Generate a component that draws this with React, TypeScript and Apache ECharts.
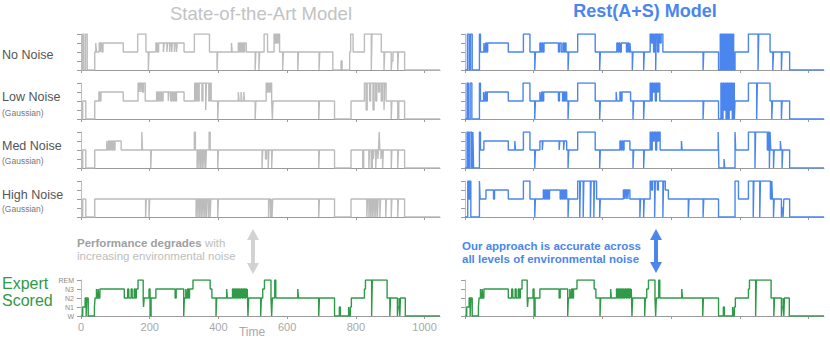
import React, { useEffect, useRef } from "react";
import * as echarts from "echarts";

// ---- data: hypnogram sequences as [startTime, stage] (stage: 0=W,1=N1,2=N2,3=N3,4=REM)
const END_TIME = 1045;
const STAGE_LABELS = ["W", "N1", "N2", "N3", "REM"];
const X_TICKS = [0, 200, 400, 600, 800, 1000];

const expertScored: number[][] = [
  [0,0],[5,1],[12,2],[15,0],[17,2],[21,0],[39,1],[41,2],[45,3],[47,2],[50,3],[52,2],[55,3],[126,2],[136,3],[139,2],[146,3],[149,2],[155,3],[158,2],[161,3],[166,4],[181,2],[182,1],[184,2],[198,3],[201,0],[204,2],[218,3],[274,2],[277,3],[299,0],[301,2],[305,3],[307,2],[310,3],[313,2],[316,3],[326,4],[376,3],[381,2],[393,0],[395,2],[424,3],[426,2],[441,3],[444,2],[447,3],[450,2],[453,3],[456,2],[459,3],[462,2],[465,3],[469,2],[472,3],[476,2],[479,3],[482,2],[484,3],[486,0],[488,2],[523,0],[525,2],[529,3],[534,4],[553,2],[555,0],[557,2],[564,4],[567,2],[631,3],[633,2],[692,0],[694,2],[738,0],[752,1],[755,0],[779,1],[781,0],[784,1],[787,2],[825,3],[828,4],[846,0],[848,4],[891,2],[899,0],[901,2],[921,0],[923,1],[926,2],[928,0],[930,2],[944,0]
];

const sotaNoNoise: number[][] = [
  [0,0],[5,4],[8,0],[13,4],[18,0],[40,2],[43,3],[45,2],[53,3],[56,2],[58,3],[61,2],[64,3],[123,2],[165,4],[189,2],[196,0],[198,2],[218,3],[222,2],[226,3],[240,2],[242,3],[250,2],[252,3],[258,2],[260,3],[264,2],[266,3],[272,2],[274,3],[278,2],[280,3],[300,2],[330,4],[374,2],[396,0],[398,2],[438,3],[440,2],[458,3],[461,2],[464,3],[467,2],[470,3],[473,2],[476,3],[481,2],[507,0],[509,2],[518,0],[520,2],[533,4],[543,2],[562,4],[565,3],[568,4],[571,3],[574,4],[578,2],[587,0],[589,2],[631,0],[633,2],[693,0],[695,2],[733,0],[757,1],[760,0],[782,2],[785,4],[792,2],[825,4],[845,0],[847,4],[874,2],[882,0],[884,2],[903,0],[905,1],[908,2],[922,0],[924,2],[942,0]
];

const sotaLowNoise: number[][] = [
  [0,0],[5,2],[14,0],[40,2],[52,3],[55,2],[58,3],[123,2],[166,4],[169,3],[171,4],[174,3],[176,4],[179,3],[182,4],[187,2],[220,3],[223,2],[226,3],[229,2],[232,3],[236,2],[239,3],[254,2],[256,3],[261,2],[264,3],[268,2],[271,3],[275,2],[278,3],[300,2],[331,4],[334,2],[337,4],[341,2],[344,4],[352,2],[355,4],[363,1],[365,4],[372,2],[375,4],[379,2],[398,0],[400,2],[458,3],[460,2],[466,3],[468,2],[474,3],[476,2],[507,0],[509,2],[539,4],[542,3],[545,4],[548,3],[551,4],[555,2],[557,0],[559,2],[692,0],[694,2],[738,0],[786,2],[825,4],[830,1],[833,4],[840,2],[843,4],[850,1],[853,4],[858,2],[861,4],[866,3],[869,4],[874,2],[877,4],[882,1],[884,4],[888,2],[903,0],[905,2],[922,0],[925,2],[942,0]
];

const sotaMedNoise: number[][] = [
  [0,0],[5,2],[14,0],[40,2],[75,3],[77,2],[80,3],[83,2],[87,3],[90,2],[93,3],[96,2],[99,3],[117,2],[177,4],[179,2],[203,0],[205,2],[330,4],[333,2],[338,0],[340,2],[343,0],[345,2],[348,0],[350,2],[353,0],[355,2],[358,0],[360,2],[363,0],[365,2],[373,4],[376,2],[398,0],[400,2],[527,0],[529,2],[537,1],[540,2],[545,0],[547,2],[555,0],[557,2],[692,0],[694,2],[738,0],[786,2],[820,0],[823,2],[838,0],[840,2],[845,0],[848,2],[851,1],[853,2],[858,0],[860,2],[864,1],[866,2],[868,4],[870,2],[873,1],[875,2],[878,0],[880,2],[903,0],[905,2],[922,0],[924,2],[942,0]
];

const sotaHighNoise: number[][] = [
  [0,0],[5,2],[14,0],[40,2],[188,0],[190,2],[198,0],[200,2],[335,0],[337,2],[340,0],[342,2],[345,0],[347,2],[350,0],[352,2],[355,0],[357,2],[360,0],[362,2],[365,0],[367,2],[371,0],[373,2],[376,0],[378,2],[398,0],[400,2],[546,0],[548,2],[552,0],[554,2],[556,0],[558,2],[692,0],[694,2],[738,0],[786,2],[832,0],[834,2],[838,0],[840,2],[843,0],[845,2],[848,0],[850,2],[853,0],[855,2],[858,0],[860,2],[863,0],[865,2],[870,0],[872,2],[887,0],[889,2],[903,0],[905,2],[922,0],[924,2],[942,0]
];

const restNoNoise: number[][] = [
  [0,0],[7,4],[12,0],[16,4],[21,0],[42,4],[45,2],[55,3],[57,2],[60,3],[63,2],[66,3],[126,2],[170,4],[189,2],[203,0],[205,2],[218,3],[221,2],[224,3],[227,2],[230,3],[272,2],[275,3],[280,2],[285,3],[288,2],[291,3],[294,2],[300,0],[302,2],[328,4],[379,2],[392,0],[394,2],[442,3],[445,2],[448,3],[451,2],[455,3],[470,2],[473,3],[477,2],[480,3],[482,2],[487,0],[489,2],[520,0],[522,2],[539,4],[543,3],[546,4],[549,2],[552,4],[555,0],[557,4],[561,2],[564,4],[568,3],[571,4],[576,2],[693,0],[695,2],[738,0],[743,4],[746,0],[749,4],[752,0],[755,4],[758,0],[761,4],[764,0],[767,4],[770,0],[773,4],[776,0],[779,4],[782,0],[786,2],[825,4],[853,0],[855,4],[888,2],[896,0],[898,2],[921,0],[923,2],[945,0]
];

const restLowNoise: number[][] = [
  [0,0],[6,4],[10,0],[15,4],[20,0],[42,4],[45,2],[54,3],[56,2],[59,3],[62,2],[65,3],[126,2],[169,4],[189,2],[203,0],[205,2],[218,3],[220,2],[223,3],[226,2],[229,3],[272,2],[275,3],[284,2],[287,3],[290,2],[293,3],[296,2],[300,0],[302,2],[328,4],[379,2],[392,0],[394,2],[440,3],[442,2],[451,3],[454,2],[457,3],[482,2],[489,0],[491,2],[520,0],[522,2],[539,4],[542,2],[545,4],[548,3],[551,4],[554,2],[557,4],[560,3],[563,4],[567,2],[693,0],[695,2],[738,0],[745,4],[748,0],[751,4],[754,1],[757,4],[760,0],[763,4],[766,0],[769,4],[772,1],[775,4],[778,0],[781,4],[784,0],[786,2],[825,4],[849,0],[851,4],[888,2],[893,0],[895,2],[921,0],[923,2],[945,0]
];

const restMedNoise: number[][] = [
  [0,0],[6,4],[10,0],[14,4],[19,0],[23,4],[25,0],[42,4],[45,2],[55,3],[126,2],[145,3],[147,2],[170,4],[189,2],[203,0],[205,2],[218,3],[225,2],[227,3],[274,2],[276,3],[287,2],[289,3],[296,2],[300,0],[302,2],[328,4],[379,2],[392,0],[394,2],[451,3],[454,2],[457,3],[460,2],[463,3],[480,2],[489,0],[491,2],[520,0],[522,2],[539,4],[542,2],[545,4],[548,3],[551,4],[555,2],[558,4],[561,3],[564,4],[568,2],[630,3],[632,2],[737,4],[739,0],[754,1],[756,0],[786,4],[788,2],[825,4],[844,0],[846,4],[880,2],[883,4],[886,0],[888,4],[890,2],[898,0],[900,2],[918,3],[920,2],[923,0],[925,2],[945,0]
];

const restHighNoise: number[][] = [
  [0,0],[8,4],[11,2],[14,4],[17,0],[42,4],[44,2],[61,3],[83,2],[86,3],[126,2],[170,4],[189,2],[203,0],[205,2],[228,3],[231,2],[234,3],[237,2],[240,3],[243,2],[246,3],[277,2],[280,3],[283,2],[286,3],[289,2],[292,3],[296,2],[300,0],[302,2],[328,4],[334,0],[336,4],[344,0],[346,4],[365,0],[367,4],[375,0],[377,4],[383,2],[392,0],[394,2],[461,3],[464,2],[466,3],[469,2],[471,3],[474,2],[476,3],[480,2],[509,0],[511,2],[520,0],[522,2],[539,4],[543,3],[546,4],[552,0],[554,4],[560,3],[563,4],[576,0],[578,4],[583,3],[592,2],[650,0],[652,2],[693,0],[695,2],[738,0],[786,4],[796,2],[825,4],[839,0],[841,4],[858,0],[860,4],[889,2],[893,4],[895,2],[898,0],[900,2],[921,0],[923,1],[926,0],[928,2],[945,0]
];

const ROW_LABELS = ["No Noise", "Low Noise", "Med Noise", "High Noise"];

const GRAY = "#bcbcbc";
const BLUE = "#4a86ee";
const GREEN = "#2f9a48";

function toSteps(seq: number[][]) {
  const pts = seq.map((p) => [p[0], p[1]]);
  pts.push([END_TIME, seq[seq.length - 1][1]]);
  return pts;
}

export default function App() {
  const ref = useRef<HTMLDivElement>(null);
  useEffect(() => {
    if (!ref.current) return;
    const chart = echarts.init(ref.current, undefined, { renderer: "svg" });

    const rowTops = [34, 83, 132, 181, 280];
    const colLefts = [81, 465];
    const plotW = 359;
    const plotH = 36;

    const cols = [
      { seqs: [sotaNoNoise, sotaLowNoise, sotaMedNoise, sotaHighNoise, expertScored], color: GRAY },
      { seqs: [restNoNoise, restLowNoise, restMedNoise, restHighNoise, expertScored], color: BLUE },
    ];

    const grids: any[] = [];
    const xAxes: any[] = [];
    const yAxes: any[] = [];
    const series: any[] = [];
    let idx = 0;
    cols.forEach((col, c) => {
      col.seqs.forEach((seq, r) => {
        const isBottom = r === 4;
        const showLabels = isBottom && c === 0;
        grids.push({ left: colLefts[c], top: rowTops[r], width: plotW, height: plotH });
        xAxes.push({
          type: "value",
          gridIndex: idx,
          min: 0,
          max: END_TIME,
          interval: 200,
          axisLine: { show: true, lineStyle: { color: "#9a9a9a", width: 1 } },
          axisTick: { show: true, length: 3, lineStyle: { color: "#9a9a9a" }, customValues: X_TICKS },
          axisLabel: {
            show: showLabels,
            customValues: X_TICKS,
            formatter: (v: number) => String(v),
            color: "#a8a8a8",
            fontSize: 11,
            margin: 5,
            fontFamily: "Liberation Sans, Arial, sans-serif",
          },
          splitLine: { show: false },
        });
        yAxes.push({
          type: "value",
          gridIndex: idx,
          min: 0,
          max: 4,
          interval: 1,
          axisLine: { show: true, lineStyle: { color: "#bdbdbd", width: 1 } },
          axisTick: { show: true, length: 4, lineStyle: { color: "#9a9a9a" } },
          axisLabel: {
            show: showLabels,
            formatter: (v: number) => STAGE_LABELS[v] ?? "",
            color: "#8a8a8a",
            fontSize: 7,
            margin: 7,
            fontFamily: "Liberation Sans, Arial, sans-serif",
          },
          splitLine: { show: false },
        });
        series.push({
          type: "line",
          xAxisIndex: idx,
          yAxisIndex: idx,
          step: "end",
          showSymbol: false,
          symbol: "none",
          data: toSteps(seq),
          lineStyle: { color: isBottom ? GREEN : col.color, width: 1.4 },
          itemStyle: { color: isBottom ? GREEN : col.color },
          z: 3,
        });
        idx++;
      });
    });

    const font = "Liberation Sans, Arial, sans-serif";
    const txt = (x: number, y: number, text: string, size: number, fill: string, weight = "normal", align = "left") => ({
      type: "text",
      x,
      y,
      style: { text, fill, fontSize: size, fontWeight: weight, fontFamily: font, textAlign: align, textVerticalAlign: "middle" },
    });
    const arrow = (cx: number, y0: number, y1: number, hw: number, sw: number, hh: number, fill: string) => ({
      type: "polygon",
      shape: {
        points: [
          [cx, y0], [cx + hw, y0 + hh], [cx + sw, y0 + hh], [cx + sw, y1 - hh], [cx + hw, y1 - hh],
          [cx, y1], [cx - hw, y1 - hh], [cx - sw, y1 - hh], [cx - sw, y0 + hh], [cx - hw, y0 + hh],
        ],
      },
      style: { fill },
    });

    const graphics: any[] = [
      txt(261, 13, "State-of-the-Art Model", 18.5, "#c2c2c2", "normal", "center"),
      txt(645, 11, "Rest(A+S) Model", 18, BLUE, "bold", "center"),
      txt(2, 55, ROW_LABELS[0], 12.5, "#555555"),
      txt(2, 97, ROW_LABELS[1], 12.5, "#555555"),
      txt(2, 113, "(Gaussian)", 8.5, "#777777"),
      txt(2, 146, ROW_LABELS[2], 12.5, "#555555"),
      txt(2, 161, "(Gaussian)", 8.5, "#777777"),
      txt(2, 195, ROW_LABELS[3], 12.5, "#555555"),
      txt(2, 209, "(Gaussian)", 8.5, "#777777"),
      txt(2, 283, "Expert", 16, GREEN),
      txt(2, 300, "Scored", 16, GREEN),
      txt(252, 332, "Time", 12, "#a8a8a8", "normal", "center"),
      {
        type: "text",
        x: 77,
        y: 243,
        style: {
          text: "{b|Performance degrades} {n|with}",
          fontFamily: font,
          textVerticalAlign: "middle",
          rich: {
            b: { fontSize: 11.5, fontWeight: "bold", fill: "#a0a0a0", fontFamily: font },
            n: { fontSize: 11.5, fill: "#bdbdbd", fontFamily: font },
          },
        },
      },
      txt(77, 256, "increasing environmental noise", 11.5, "#bdbdbd"),
      arrow(253, 229, 274, 6, 2, 11, "#d2d2d2"),
      txt(462, 246, "Our approach is accurate across", 11.5, BLUE, "bold"),
      txt(462, 259, "all levels of environmental noise", 11.5, BLUE, "bold"),
      arrow(656, 229, 273, 6, 2, 11, BLUE),
    ];

    chart.setOption({
      animation: false,
      backgroundColor: "#ffffff",
      grid: grids,
      xAxis: xAxes,
      yAxis: yAxes,
      series,
      graphic: graphics,
    });
    return () => chart.dispose();
  }, []);

  return <div ref={ref} style={{ position: "absolute", left: 0, top: 0, width: 830, height: 339 }} />;
}
